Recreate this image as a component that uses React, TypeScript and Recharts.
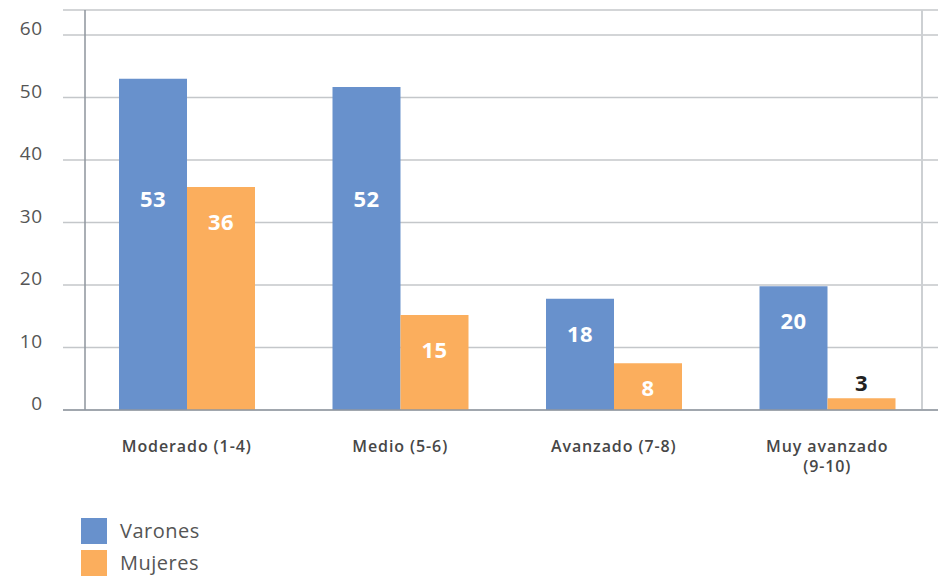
import React from "react";
import { BarChart, Bar, XAxis, YAxis, CartesianGrid, LabelList } from "recharts";

const categories = ["Moderado (1-4)", "Medio (5-6)", "Avanzado (7-8)", "Muy avanzado (9-10)"];
const seriesNames = ["Varones", "Mujeres"];
const varones = [53, 51.7, 17.8, 19.8];
const mujeres = [35.7, 15.2, 7.5, 1.9];
const varonesLabels = [53, 52, 18, 20];
const mujeresLabels = [36, 15, 8, 3];
const yTicks = [0, 10, 20, 30, 40, 50, 60];

const BLUE = "#6891CC";
const ORANGE = "#FBAE5D";
const FONT = "'Open Sans', 'DejaVu Sans', sans-serif";

const data = categories.map((c, i) => ({
  cat: c,
  varones: varones[i],
  mujeres: mujeres[i],
  varonesLabel: varonesLabels[i],
  mujeresLabel: mujeresLabels[i],
}));

const makeLabel = (values: number[]) => (props: any) => {
  const { x, y, width, height, value, index } = props;
  const v = values[index];
  const h = Number(height);
  const top = Number(y);
  const cx = Number(x) + Number(width) / 2;
  if (h < 20) {
    return (
      <text x={cx} y={top - 16} textAnchor="middle" dominantBaseline="central"
        fill="#222" fontFamily={FONT} fontWeight={700} fontSize={22} letterSpacing={0.5}>{value}</text>
    );
  }
  const ppu = h / v;
  const zero = top + h;
  const cap = zero - 34 * ppu;
  let ly = Math.max(top + 34, cap);
  ly = Math.min(ly, top + h / 2);
  return (
    <text x={cx} y={ly} textAnchor="middle" dominantBaseline="central"
      fill="#fff" fontFamily={FONT} fontWeight={700} fontSize={22} letterSpacing={0.5}>{value}</text>
  );
};

const XTick = (props: any) => {
  const { x, y, payload } = props;
  const s: string = payload.value;
  let lines = [s];
  if (s.length > 16) {
    const k = s.lastIndexOf(" ");
    lines = [s.slice(0, k), s.slice(k + 1)];
  }
  return (
    <g>
      {lines.map((l, i) => (
        <text key={i} x={x} y={y + 42 + i * 20} textAnchor="middle"
          fill="#474747" fontFamily={FONT} fontWeight={600} fontSize={16} letterSpacing={0.9}>{l}</text>
      ))}
    </g>
  );
};

const YTick = (props: any) => {
  const { y, payload } = props;
  return (
    <text x={43} y={y - 7} textAnchor="end" dominantBaseline="central"
      fill="#555" fontFamily={FONT} fontSize={19} letterSpacing={0.8}>{payload.value}</text>
  );
};

export default function App() {
  return (
    <div style={{ position: "absolute", left: 0, top: 0, width: 938, height: 577, background: "#fff" }}>
      <BarChart width={938} height={577} data={data}
        margin={{ top: 10, right: 0, bottom: 107, left: 0 }} barGap={0} barSize={68}>
        <CartesianGrid vertical={false} stroke="#c4c7ca" strokeWidth={1.5} />
        <CartesianGrid horizontal={false} verticalPoints={[85]} stroke="#8e959c" strokeWidth={1.5} />
        <CartesianGrid horizontal={false} verticalPoints={[922]} stroke="#cdd0d3" strokeWidth={2} />
        <XAxis dataKey="cat" tick={<XTick />} tickLine={false} tickSize={0} tickMargin={0}
          axisLine={{ stroke: "#9097a0", strokeWidth: 1.5 }} height={60} interval={0}
          padding={{ left: 17, right: 4 }} />
        <YAxis domain={[0, 64]} ticks={yTicks} tick={<YTick />} axisLine={false} tickLine={false}
          width={63} />
        <Bar dataKey="varones" fill={BLUE} isAnimationActive={false}>
          <LabelList dataKey="varonesLabel" content={makeLabel(varones)} />
        </Bar>
        <Bar dataKey="mujeres" fill={ORANGE} isAnimationActive={false}>
          <LabelList dataKey="mujeresLabel" content={makeLabel(mujeres)} />
        </Bar>
      </BarChart>
      {seriesNames.map((n, i) => (
        <div key={n} style={{ position: "absolute", left: 81, top: 518 + i * 32, height: 26,
          display: "flex", alignItems: "center" }}>
          <div style={{ width: 26, height: 26, background: i === 0 ? BLUE : ORANGE }} />
          <span style={{ marginLeft: 13, fontFamily: FONT, fontSize: 20, letterSpacing: 0.5, color: "#555", lineHeight: "26px" }}>{n}</span>
        </div>
      ))}
    </div>
  );
}
